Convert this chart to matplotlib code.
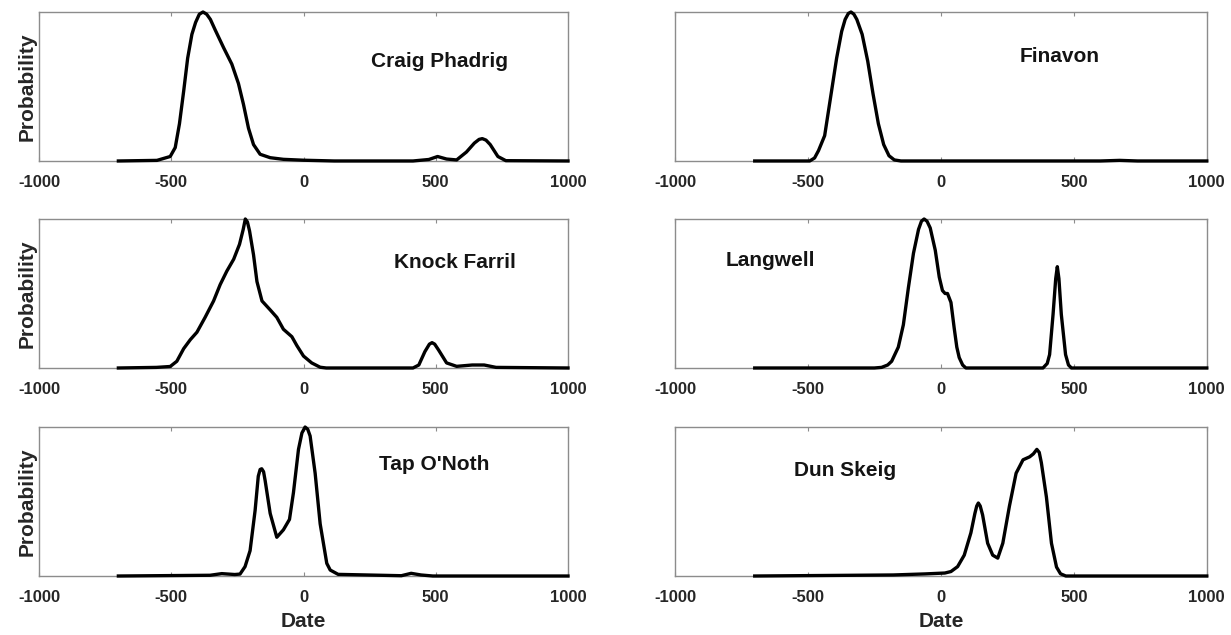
import matplotlib
matplotlib.use("Agg")
import matplotlib.pyplot as plt

plt.rcParams['font.family'] = ['Liberation Sans', 'DejaVu Sans']
plt.rcParams['font.weight'] = 'bold'

# probability curves (normalised so the tallest peak = 1)
craig_x = [-700, -554, -504, -485, -469, -453, -438, -422, -408, -394, -380, -366, -352,
           -334, -302, -271, -246, -227, -208, -189, -164, -126, -76, 0, 116, 414, 474, 507,
           541, 579, 616, 646, 664, 676, 690, 706, 735, 765, 1000]
craig_y = [0, 0.004, 0.03, 0.09, 0.25, 0.47, 0.69, 0.85, 0.93, 0.985, 1.0, 0.985, 0.95,
           0.88, 0.76, 0.65, 0.52, 0.38, 0.22, 0.11, 0.045, 0.022, 0.011, 0.005, 0, 0, 0.01,
           0.03, 0.013, 0.007, 0.06, 0.12, 0.145, 0.15, 0.14, 0.11, 0.03, 0.002, 0]

finavon_x = [-700, -493, -475, -460, -437, -411, -392, -373, -360, -348, -338, -327,
             -316, -296, -275, -255, -235, -215, -195, -175, -150, 600, 672, 740, 1000]
finavon_y = [0, 0, 0.02, 0.07, 0.17, 0.47, 0.69, 0.87, 0.95, 0.99, 1.0, 0.985,
             0.95, 0.85, 0.67, 0.45, 0.25, 0.11, 0.035, 0.007, 0, 0, 0.004, 0, 0]

knock_x = [-700, -556, -504, -479, -453, -428, -403, -372, -340, -315, -290, -264, -242,
           -228, -220, -212, -204, -189, -176, -157, -126, -101, -76, -44, -25, 0, 31, 63,
           86, 414, 436, 459, 476, 486, 496, 511, 541, 579, 638, 683, 728, 1000]
knock_y = [0, 0.004, 0.01, 0.045, 0.13, 0.19, 0.24, 0.34, 0.45, 0.56, 0.65, 0.73, 0.83,
           0.93, 1.0, 0.98, 0.92, 0.76, 0.58, 0.45, 0.39, 0.34, 0.26, 0.21, 0.15, 0.08, 0.034,
           0.005, 0, 0, 0.02, 0.11, 0.16, 0.17, 0.16, 0.12, 0.034, 0.011, 0.02, 0.02, 0.004, 0]

langwell_x = [-700, -250, -223, -200, -185, -160, -141, -122, -103, -84, -73, -63, -52,
              -40, -21, -6, 6, 16, 25, 38, 50, 60, 69, 82, 94, 384, 400, 409, 422, 432, 438,
              444, 453, 469, 480, 491, 1000]
langwell_y = [0, 0, 0.004, 0.02, 0.045, 0.14, 0.29, 0.54, 0.77, 0.93, 0.985, 1.0, 0.985,
              0.94, 0.79, 0.61, 0.52, 0.50, 0.50, 0.44, 0.27, 0.14, 0.07, 0.02, 0, 0, 0.03,
              0.09, 0.36, 0.60, 0.68, 0.60, 0.36, 0.09, 0.02, 0, 0]

tap_x = [-700, -353, -309, -260, -240, -221, -202, -183, -171, -164, -158, -151, -145,
         -126, -101, -76, -53, -38, -19, -6, 6, 16, 25, 44, 63, 88, 101, 131, 370, 407, 444,
         489, 1000]
tap_y = [0, 0.005, 0.016, 0.01, 0.013, 0.063, 0.17, 0.44, 0.67, 0.715, 0.72, 0.70, 0.64,
         0.42, 0.26, 0.31, 0.38, 0.56, 0.85, 0.96, 1.0, 0.985, 0.94, 0.69, 0.35, 0.085,
         0.04, 0.011, 0.002, 0.018, 0.007, 0, 0]

dun_x = [-700, -179, -60, 15, 38, 63, 88, 113, 128, 135, 141, 148, 157, 176, 195, 214,
         233, 258, 283, 309, 334, 348, 361, 370, 378, 397, 416, 435, 450, 470, 1000]
dun_y = [0, 0.007, 0.014, 0.02, 0.03, 0.063, 0.14, 0.29, 0.42, 0.47, 0.49, 0.47, 0.41,
         0.22, 0.14, 0.12, 0.22, 0.47, 0.69, 0.78, 0.80, 0.82, 0.85, 0.83, 0.76, 0.53,
         0.22, 0.06, 0.015, 0, 0]

sites = ["Craig Phadrig", "Finavon", "Knock Farril", "Langwell", "Tap O'Noth", "Dun Skeig"]
curves = [(craig_x, craig_y), (finavon_x, finavon_y), (knock_x, knock_y),
          (langwell_x, langwell_y), (tap_x, tap_y), (dun_x, dun_y)]
# where each site name sits (axes fraction)
name_pos = [(0.758, 0.67), (0.724, 0.70), (0.786, 0.71),
            (0.179, 0.72), (0.748, 0.75), (0.319, 0.71)]

xticks = [-1000, -500, 0, 500, 1000]

fig = plt.figure(figsize=(12.31, 6.35), dpi=100)
lefts = [0.0317, 0.5483]
widths = [0.4297, 0.432]
bottoms = [0.7465, 0.4205, 0.0929]
height = 0.2346

for i, site in enumerate(sites):
    row, col = divmod(i, 2)
    ax = fig.add_axes([lefts[col], bottoms[row], widths[col], height])
    x, y = curves[i]
    ax.plot(x, y, color="black", lw=2.4, solid_joinstyle="round", clip_on=False, zorder=3)
    ax.set_xlim(-1000, 1000)
    ax.set_ylim(0, 1)
    ax.set_xticks(xticks)
    ax.set_xticklabels([str(t) for t in xticks])
    ax.set_yticks([])
    ax.tick_params(axis="x", direction="in", top=True, length=3, width=0.8,
                   color="#8c8c8c", labelsize=12, labelcolor="#262626", pad=10)
    for s in ax.spines.values():
        s.set_color("#8c8c8c")
        s.set_linewidth(1.0)
    ax.text(name_pos[i][0], name_pos[i][1], site, transform=ax.transAxes,
            ha="center", va="center", fontsize=15, fontweight="bold", color="#141414")
    if col == 0:
        ax.set_ylabel("Probability", fontsize=15, fontweight="bold", color="#262626", labelpad=2)
    if row == 2:
        ax.set_xlabel("Date", fontsize=15, fontweight="bold", color="#262626", labelpad=5)

fig.savefig("out.png", dpi=100)
